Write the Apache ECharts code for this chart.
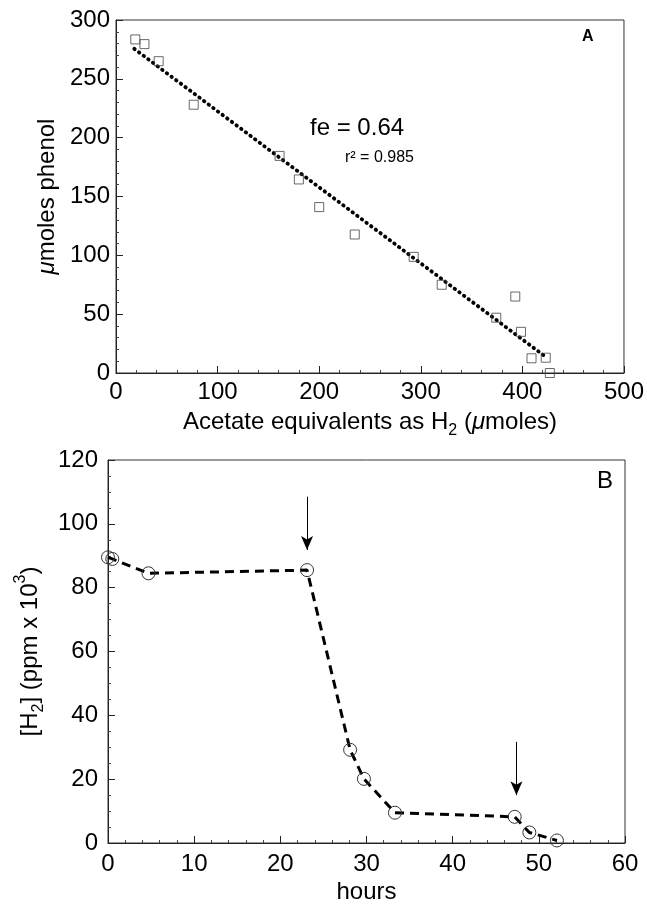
<!DOCTYPE html>
<html>
<head>
<meta charset="utf-8">
<script src="https://cdn.jsdelivr.net/npm/echarts@6/dist/echarts.min.js"></script>
<style>
  html, body { margin: 0; padding: 0; background: #fff; }
  #container { width: 647px; height: 908px; }
</style>
</head>
<body>
<div id="container"></div>
<script>
// Panel A: phenol vs acetate equivalents
var acetateX = [19, 28, 42, 76.5, 161, 180, 200, 235, 293, 320.6, 374.3, 393, 398.6, 409, 423, 427];
var phenolY = [283.5, 279.5, 265, 228, 184.5, 164.5, 141, 117.7, 98.7, 75, 47, 65, 35, 12.5, 13, 0];
var fitX = [18, 424];
var fitY = [275.5, 13];

// Panel B: H2 vs hours
var hoursX = [0, 0.5, 4.7, 23.1, 28.1, 29.7, 33.3, 47.2, 48.9, 52.1];
var h2Y = [89.5, 89, 84.5, 85.5, 29.2, 20.1, 9.5, 8.2, 3.3, 0.8];
var arrowX = [23.1, 47.4];
var arrowTop = [108.5, 31.7];
var arrowEnd = [91.8, 15];

var FONT = 'Liberation Sans';

function pairs(xs, ys) {
    var out = [];
    for (var i = 0; i < xs.length; i++) out.push([xs[i], ys[i]]);
    return out;
}

function axisBase(extra) {
    var ax = {
        type: 'value',
        axisLine: { show: true, onZero: false, lineStyle: { color: '#222', width: 1 } },
        axisTick: { show: true, inside: true, length: 7, lineStyle: { color: '#222' } },
        minorTick: { show: true, length: 3, lineStyle: { color: '#444' } },
        splitLine: { show: false },
        axisLabel: { color: '#000', fontSize: 24, fontFamily: FONT, margin: 7 },
        nameLocation: 'middle',
        nameTextStyle: { color: '#000', fontSize: 24, fontFamily: FONT }
    };
    for (var k in extra) ax[k] = extra[k];
    return ax;
}

var arrowLines = [];
for (var i = 0; i < arrowX.length; i++) {
    arrowLines.push([{ coord: [arrowX[i], arrowTop[i]] }, { coord: [arrowX[i], arrowEnd[i]] }]);
}

var myChart = echarts.init(document.getElementById('container'));
var option = {
    animation: false,
    grid: [
        { left: 116, top: 20, width: 508, height: 353, show: true, borderColor: '#333', borderWidth: 1 },
        { left: 108, top: 460, width: 517, height: 383, show: true, borderColor: '#333', borderWidth: 1 }
    ],
    xAxis: [
        axisBase({
            gridIndex: 0, min: 0, max: 500, interval: 100,
            name: '{t|Acetate equivalents as H}{sub|2}{t| (}{i|μ}{t|moles)}',
            nameGap: 32,
            nameTextStyle: {
                color: '#000', fontSize: 24, fontFamily: FONT,
                rich: {
                    t: { fontSize: 24, fontFamily: FONT, lineHeight: 34 },
                    i: { fontSize: 24, fontFamily: FONT, fontStyle: 'italic', lineHeight: 34 },
                    sub: { fontSize: 16, fontFamily: FONT, lineHeight: 34, verticalAlign: 'bottom', padding: [12, 0, 0, 0] }
                }
            }
        }),
        axisBase({
            gridIndex: 1, min: 0, max: 60, interval: 10,
            name: 'hours', nameGap: 37,
            axisLabel: { color: '#000', fontSize: 24, fontFamily: FONT, margin: 9 }
        })
    ],
    yAxis: [
        axisBase({
            gridIndex: 0, min: 0, max: 300, interval: 50,
            minorTick: { show: true, splitNumber: 5, length: 3, lineStyle: { color: '#444' } },
            name: '{i|μ}{t|moles phenol}',
            nameGap: 52,
            nameTextStyle: {
                color: '#000', fontSize: 24, fontFamily: FONT,
                rich: {
                    t: { fontSize: 24, fontFamily: FONT },
                    i: { fontSize: 24, fontFamily: FONT, fontStyle: 'italic' }
                }
            },
            axisLabel: { color: '#000', fontSize: 24, fontFamily: FONT, margin: 6 }
        }),
        axisBase({
            gridIndex: 1, min: 0, max: 120, interval: 20,
            minorTick: { show: true, splitNumber: 4, length: 3, lineStyle: { color: '#444' } },
            name: '{t|[H}{sub|2}{t|] (ppm x 10}{sup|3}{t|)}',
            nameGap: 58,
            nameTextStyle: {
                color: '#000', fontSize: 24, fontFamily: FONT,
                rich: {
                    t: { fontSize: 24, fontFamily: FONT, lineHeight: 34 },
                    sub: { fontSize: 16, fontFamily: FONT, lineHeight: 34, verticalAlign: 'bottom', padding: [12, 0, 0, 0] },
                    sup: { fontSize: 16, fontFamily: FONT, lineHeight: 34, verticalAlign: 'top', padding: [0, 0, 12, 0] }
                }
            },
            axisLabel: { color: '#000', fontSize: 24, fontFamily: FONT, margin: 10 }
        })
    ],
    series: [
        {
            name: 'fit',
            type: 'line',
            xAxisIndex: 0, yAxisIndex: 0,
            data: pairs(fitX, fitY),
            showSymbol: false,
            symbol: 'none',
            lineStyle: { color: '#000', width: 3.8, type: [0.5, 5.3], cap: 'round' },
            z: 2
        },
        {
            name: 'phenol',
            type: 'scatter',
            xAxisIndex: 0, yAxisIndex: 0,
            data: pairs(acetateX, phenolY),
            symbol: 'rect',
            symbolSize: 9,
            itemStyle: { color: 'rgba(0,0,0,0)', borderColor: '#444', borderWidth: 1 },
            z: 3
        },
        {
            name: 'H2',
            type: 'line',
            xAxisIndex: 1, yAxisIndex: 1,
            data: pairs(hoursX, h2Y),
            symbol: 'circle',
            symbolSize: 13,
            showAllSymbol: true,
            lineStyle: { color: '#000', width: 3, type: [9, 6] },
            itemStyle: { color: 'rgba(0,0,0,0)', borderColor: '#333', borderWidth: 1 },
            markLine: {
                silent: true,
                animation: false,
                symbol: ['none', 'arrow'],
                symbolSize: [9, 14],
                label: { show: false },
                lineStyle: { type: 'solid', color: '#000', width: 1 },
                emphasis: { disabled: true },
                data: arrowLines
            }
        }
    ],
    graphic: [
        {
            type: 'text', left: 310, top: 116,
            style: { text: 'fe = 0.64', font: '24px "Liberation Sans"', fill: '#000' }
        },
        {
            type: 'text', left: 345, top: 150,
            style: { text: 'r² = 0.985', font: '16px "Liberation Sans"', fill: '#000' }
        },
        {
            type: 'text', left: 582, top: 29,
            style: { text: 'A', font: 'bold 16px "Liberation Sans"', fill: '#000' }
        },
        {
            type: 'text', left: 597, top: 469,
            style: { text: 'B', font: '24px "Liberation Sans"', fill: '#000' }
        }
    ]
};
myChart.setOption(option);
</script>
</body>
</html>
